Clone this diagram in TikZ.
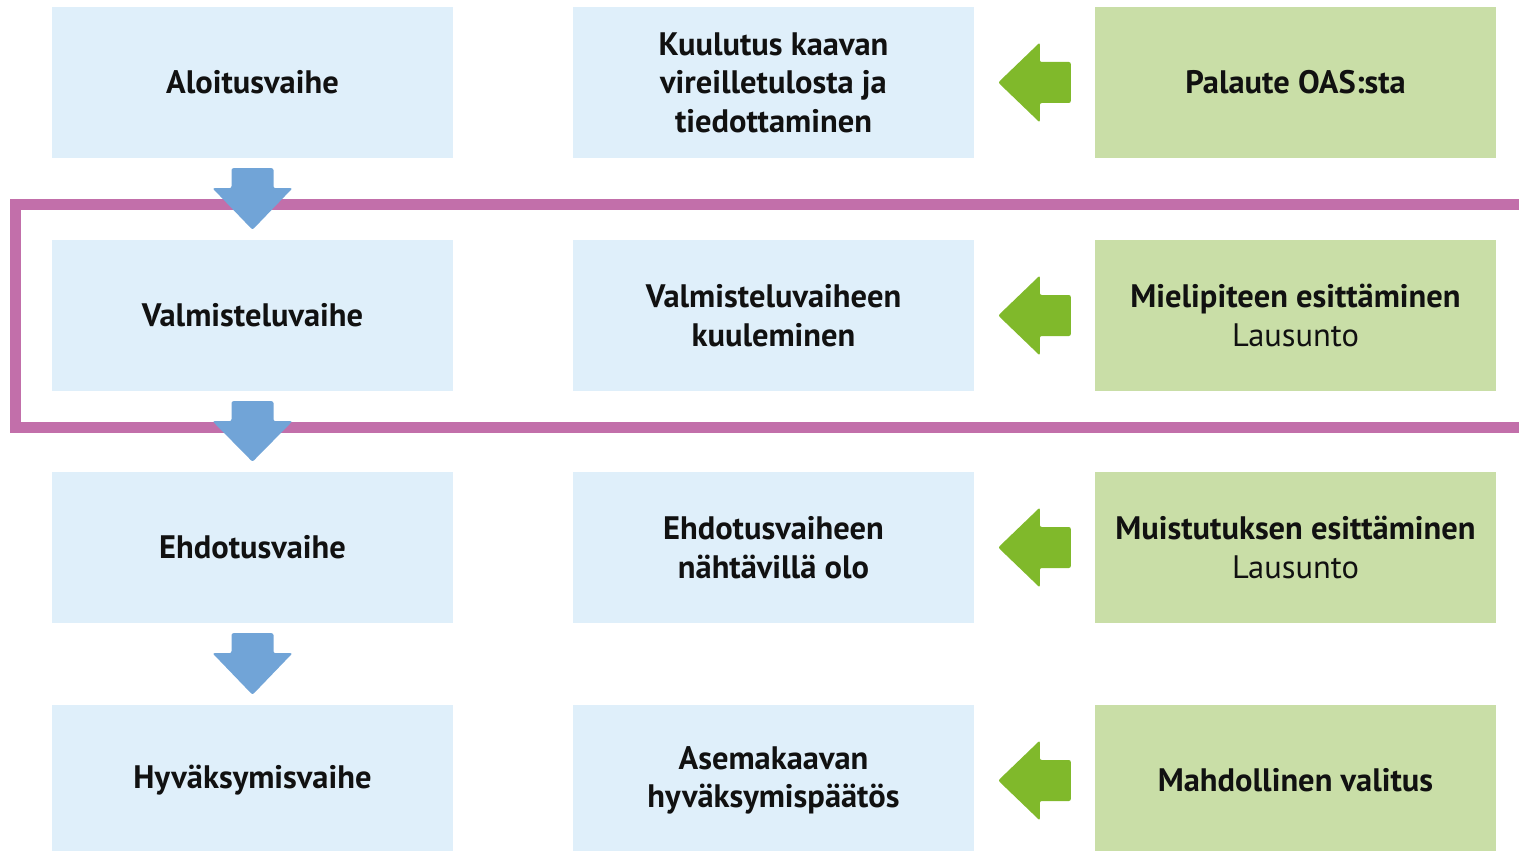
\documentclass[tikz,border=0pt]{standalone}
\usepackage{fontspec}
\setmainfont{PT Sans}
\usetikzlibrary{calc}
\definecolor{phasebg}{HTML}{DFEFFA}
\definecolor{feedbg}{HTML}{C9DEA7}
\definecolor{flowblue}{HTML}{71A4D7}
\definecolor{backgreen}{HTML}{80B92B}
\definecolor{framepink}{HTML}{C26FAA}
\definecolor{txt}{HTML}{111111}
\newcommand{\phasefont}{\fontsize{32.5}{38.5}\selectfont}
\tikzset{
  phase/.style={rectangle, fill=phasebg, minimum width=401pt, minimum height=151pt,
    inner sep=0pt, align=center, text=txt, font=\phasefont\bfseries},
  feedback/.style={phase, fill=feedbg},
  downarrow/.style={fill=flowblue, rounded corners=2pt},
  backarrow/.style={fill=backgreen, rounded corners=2pt},
}

\begin{document}
\begin{tikzpicture}[x=1pt,y=-1pt]
        \useasboundingbox (0,0) rectangle (1519,851);

        % phases
        \node[phase] (aloitus) at (252.5,82.5) {Aloitusvaihe};
        \node[phase] (valmistelu) at (252.5,315.5) {Valmisteluvaihe};
        \node[phase] (ehdotus) at (252.5,547.5) {Ehdotusvaihe};
        \node[phase] (hyvaksymis) at (252.5,780.5) {Hyväksymisvaihe};

        \node[phase] (kuulutus) at (773.5,82.5) {Kuulutus kaavan\\vireilletulosta ja\\tiedottaminen};
        \node[phase] (kuuleminen) at (773.5,315.5) {Valmisteluvaiheen\\kuuleminen};
        \node[phase] (nahtavilla) at (773.5,547.5) {Ehdotusvaiheen\\nähtävillä olo};
        \node[phase] (paatos) at (773.5,780.5) {Asemakaavan\\hyväksymispäätös};

        \node[feedback] (palaute) at (1295.5,82.5) {Palaute OAS:sta};
        \node[feedback] (mielipide) at (1295.5,315.5) {Mielipiteen esittäminen\\\mdseries Lausunto};
        \node[feedback] (muistutus) at (1295.5,547.5) {Muistutuksen esittäminen\\\mdseries Lausunto};
        \node[feedback] (valitus) at (1295.5,780.5) {Mahdollinen valitus};

        % participation frame
        \draw[framepink, line width=11pt] (1530,204.5) -- (15.5,204.5) -- (15.5,427) -- (1530,427);

        % flow between phases
        \foreach \a/\b in {aloitus/valmistelu,valmistelu/ehdotus,ehdotus/hyvaksymis} {
            \fill[downarrow] ($(\a.south)+(-21,10)$) -- ($(\a.south)+(21,10)$)
                -- ($(\a.south)+(21,30)$) -- ($(\a.south)+(40,30)$)
                -- ($(\b.north)+(0,-10)$)
                -- ($(\a.south)+(-40,30)$) -- ($(\a.south)+(-21,30)$) -- cycle;
        }

        % feedback arrows
        \foreach \m/\r in {kuulutus/palaute,kuuleminen/mielipide,nahtavilla/muistutus,paatos/valitus} {
            \fill[backarrow] ($(\r.west)+(-24,-20.5)$) -- ($(\r.west)+(-55,-20.5)$)
                -- ($(\r.west)+(-55,-40)$) -- ($(\m.east)+(24,0)$)
                -- ($(\r.west)+(-55,40)$) -- ($(\r.west)+(-55,20.5)$)
                -- ($(\r.west)+(-24,20.5)$) -- cycle;
        }
\end{tikzpicture}
\end{document}
